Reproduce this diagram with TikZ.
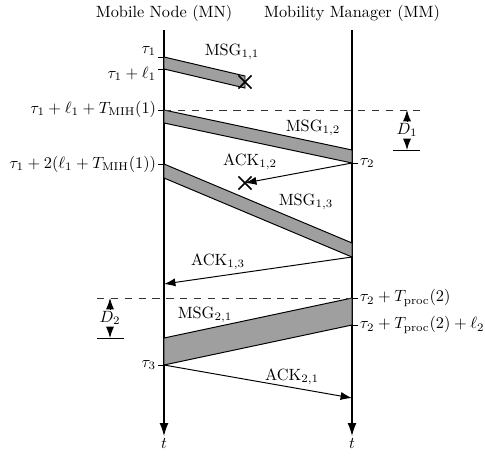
\documentclass[tikz,border=0pt]{standalone}
\usetikzlibrary{arrows.meta,shapes.misc}
\begin{document}
\begin{tikzpicture}[x=0.6135pt,y=-0.6135pt,
  band/.style={draw,fill=gray!75,line width=0.6pt},
  msg/.style={draw,-{Latex[length=7pt,width=5pt]},line width=0.6pt},
  axis/.style={draw,-{Latex[length=8pt,width=5.5pt]},line width=0.8pt},
  tick/.style={draw,line width=0.6pt},
  level/.style={draw,gray!40!black,dash pattern=on 4.5pt off 4pt,line width=0.5pt},
  lost/.style={draw,cross out,line width=1pt,minimum size=7pt,inner sep=0pt},
  lab/.style={inner sep=1pt}]
  \useasboundingbox (0,0) rectangle (485,456);
  % the two entities
  \node[lab] (mnhead) at (164,13) {Mobile Node (MN)};
  \node[lab] (mmhead) at (352,13) {Mobility Manager (MM)};
  \coordinate (mntop) at (164,30);
  \coordinate (mmtop) at (352,30);
  \node[lab] (mnt) at (164,443) {$t$};
  \node[lab] (mmt) at (352,443) {$t$};
  \draw[axis] (mntop)--(mnt.north);
  \draw[axis] (mmtop)--(mmt.north);
  % points on the time lines
  \coordinate (a1) at (164,57);
  \coordinate (a2) at (164,69);
  \coordinate (a3) at (164,110);
  \coordinate (a4) at (164,123);
  \coordinate (a5) at (164,164);
  \coordinate (a6) at (164,178);
  \coordinate (a7) at (164,284);
  \coordinate (a8) at (164,338);
  \coordinate (a9) at (164,365);
  \coordinate (b1) at (352,150);
  \coordinate (b2) at (352,163);
  \coordinate (b3) at (352,243);
  \coordinate (b4) at (352,257);
  \coordinate (b5) at (352,298);
  \coordinate (b6) at (352,325);
  \coordinate (b7) at (352,398);
  % messages
  \draw[band] (a1)--(245,76)--(245,88)--(a2)--cycle;
  \draw[band] (a3)--(b1)--(b2)--(a4)--cycle;
  \draw[band] (a5)--(b3)--(b4)--(a6)--cycle;
  \draw[band] (a8)--(b5)--(b6)--(a9)--cycle;
  \node[lost] (x1) at (245,82) {};
  \node[lost] (x2) at (245,183) {};
  \draw[msg] (b2)--(x2.center);
  \draw[msg] (b4)--(a7);
  \draw[msg] (a9)--(b7);
  \node[lab] (m11) at (232,52) {$\mathrm{MSG}_{1,1}$};
  \node[lab] (m12) at (313,128) {$\mathrm{MSG}_{1,2}$};
  \node[lab] (k12) at (250,162) {$\mathrm{ACK}_{1,2}$};
  \node[lab] (m13) at (306,202) {$\mathrm{MSG}_{1,3}$};
  \node[lab] (k13) at (218,262) {$\mathrm{ACK}_{1,3}$};
  \node[lab] (m21) at (205,315) {$\mathrm{MSG}_{2,1}$};
  \node[lab] (k21) at (292,377) {$\mathrm{ACK}_{2,1}$};
  % time marks, MN side
  \foreach \p in {a1,a2,a3,a5,a9}
    \draw[tick] (\p)--++(-6,0);
  \node[lab,anchor=east] (t1) at (158,51) {$\tau_1$};
  \node[lab,anchor=east] (t2) at (158,74) {$\tau_1+\ell_1$};
  \node[lab,anchor=east] (t3) at (158,109) {$\tau_1+\ell_1+T_{\mathrm{MIH}}(1)$};
  \node[lab,anchor=east] (t4) at (158,164) {$\tau_1+2(\ell_1+T_{\mathrm{MIH}}(1))$};
  \node[lab,anchor=east] (t5) at (158,365) {$\tau_3$};
  % time marks, MM side
  \foreach \p in {b2,b5,b6}
    \draw[tick] (\p)--++(6,0);
  \node[lab,anchor=west] (r1) at (358,163) {$\tau_2$};
  \node[lab,anchor=west] (r2) at (358,298) {$\tau_2+T_{\mathrm{proc}}(2)$};
  \node[lab,anchor=west] (r3) at (358,325) {$\tau_2+T_{\mathrm{proc}}(2)+\ell_2$};
  % delays
  \coordinate (d1a) at (420,110);
  \coordinate (d1b) at (393,150);
  \coordinate (d1c) at (420,150);
  \draw[level] (a3)--(d1a);
  \draw[tick] (d1b)--(d1c);
  \node[lab,fill=white] (d1) at (407,130) {$D_1$};
  \draw[msg] (d1)--(407,110);
  \draw[msg] (d1)--(407,150);
  \coordinate (d2a) at (97,298);
  \coordinate (d2b) at (97,338);
  \coordinate (d2c) at (124,338);
  \draw[level] (d2a)--(b5);
  \draw[tick] (d2b)--(d2c);
  \node[lab,fill=white] (d2) at (110,318) {$D_2$};
  \draw[msg] (d2)--(110,298);
  \draw[msg] (d2)--(110,338);
\end{tikzpicture}
\end{document}
